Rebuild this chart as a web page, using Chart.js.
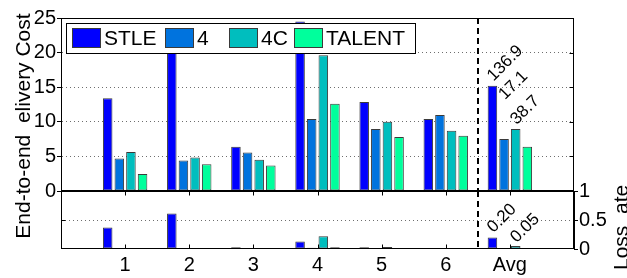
<!DOCTYPE html>
<html>
<head>
<meta charset="utf-8">
<title>Delivery cost and loss rate</title>
<script src="https://cdn.jsdelivr.net/npm/chart.js@4/dist/chart.umd.min.js"></script>
<style>
  body { margin: 0; background: #fff; }
  #wrap { position: relative; width: 627px; height: 278px; }
  #wrap canvas { position: absolute; left: 0; top: 0; }
</style>
</head>
<body>
<div id="wrap">
  <canvas id="costChart" width="627" height="278"></canvas>
  <canvas id="lossChart" width="627" height="278"></canvas>
</div>
<script>
// categories (empty slots at both ends keep the MATLAB style margins)
const xLabels = ['', '1', '2', '3', '4', '5', '6', 'Avg', ''];
const seriesNames = ['STLE', '4', '4C', 'TALENT'];
const seriesColors = ['#0000ff', '#0073de', '#00bebe', '#00ff9c'];

// end-to-end delivery cost (top panel)
const costSTLE   = [null, 13.4, 24.0, 6.4, 24.5, 12.85, 10.4, 15.2, null];
const cost4      = [null, 4.7, 4.4, 5.55, 10.4, 8.95, 11.0, 7.5, null];
const cost4C     = [null, 5.65, 4.85, 4.5, 19.6, 10.0, 8.7, 8.95, null];
const costTALENT = [null, 2.45, 3.85, 3.7, 12.6, 7.8, 8.0, 6.4, null];

// loss rate (bottom panel)
const lossSTLE   = [null, 0.37, 0.61, 0.03, 0.13, 0.03, 0.005, 0.20, null];
const loss4      = [null, 0.005, 0.005, 0.005, 0.02, 0.01, 0.005, 0.01, null];
const loss4C     = [null, 0.005, 0.005, 0.005, 0.22, 0.035, 0.005, 0.05, null];
const lossTALENT = [null, 0.005, 0.005, 0.005, 0.03, 0.005, 0.005, 0.005, null];

// value notes written above the Avg bars: [series index, text, y in data units]
const costNotes = [[0, '136.9', 15.8], [1, '17.1', 13.1], [2, '38.7', 9.5]];
const lossNotes = [[0, '0.20', 0.27], [2, '0.05', 0.10]];

const FONT = "'Liberation Sans', Arial, sans-serif";

function makeSets(lists) {
  return lists.map((d, i) => ({
    label: seriesNames[i],
    data: d,
    backgroundColor: seriesColors[i],
    borderColor: '#3a3a3a',
    borderWidth: 1,
    borderSkipped: false,
    categoryPercentage: 0.725,
    barPercentage: 0.82
  }));
}

// box, inner ticks and the dashed divider between 6 and Avg
const framePlugin = {
  id: 'frame',
  afterDraw(chart, args, opts) {
    const { ctx, chartArea: a, scales } = chart;
    const xs = scales.x, ys = scales.y;
    ctx.save();
    ctx.strokeStyle = '#000';
    ctx.lineWidth = 1;
    const L = Math.round(a.left) + 0.5, R = Math.round(a.right) - 0.5;
    const T = Math.round(a.top) + 0.5, B = Math.round(a.bottom) - 0.5;
    ctx.strokeRect(L, T, R - L, B - T);

    ctx.beginPath();
    if (opts.xTicks) {
      for (let i = 1; i <= 7; i++) {
        const x = Math.round(xs.getPixelForValue(i)) + 0.5;
        ctx.moveTo(x, B); ctx.lineTo(x, B - 4);
        ctx.moveTo(x, T); ctx.lineTo(x, T + 4);
      }
    }
    ys.ticks.forEach(t => {
      if (t.value <= ys.min || t.value >= ys.max) return;
      const y = Math.round(ys.getPixelForValue(t.value)) + 0.5;
      if (opts.side === 'right') { ctx.moveTo(R, y); ctx.lineTo(R - 4, y); }
      else { ctx.moveTo(L, y); ctx.lineTo(L + 4, y); }
    });
    ctx.stroke();

    const xd = Math.round((xs.getPixelForValue(6) + xs.getPixelForValue(7)) / 2);
    ctx.lineWidth = 2;
    ctx.setLineDash([6, 4]);
    ctx.beginPath();
    ctx.moveTo(xd, a.top);
    ctx.lineTo(xd, a.bottom);
    ctx.stroke();
    ctx.restore();
  }
};

// MATLAB style legend inside the top panel
const legendPlugin = {
  id: 'boxLegend',
  afterDraw(chart, args, opts) {
    if (!opts.show) return;
    const ctx = chart.ctx;
    const bx = 66, by = 23, bw = 349, bh = 30;
    const slots = [6, 99, 163, 228];
    ctx.save();
    ctx.fillStyle = '#fff';
    ctx.fillRect(bx, by, bw, bh);
    ctx.strokeStyle = '#000';
    ctx.lineWidth = 1;
    ctx.strokeRect(bx + 0.5, by + 0.5, bw, bh);
    ctx.font = '21px ' + FONT;
    ctx.textBaseline = 'middle';
    chart.data.datasets.forEach((ds, i) => {
      const sx = bx + slots[i];
      ctx.fillStyle = ds.backgroundColor;
      ctx.fillRect(sx, by + 5, 29, 20);
      ctx.strokeStyle = '#3a3a3a';
      ctx.strokeRect(sx + 0.5, by + 5.5, 28, 19);
      ctx.fillStyle = '#000';
      ctx.fillText(ds.label, sx + 32, by + bh / 2 + 1);
    });
    ctx.restore();
  }
};

// rotated value notes and the two axis titles
const notesPlugin = {
  id: 'notes',
  afterDraw(chart, args, opts) {
    const ctx = chart.ctx;
    ctx.save();
    ctx.fillStyle = '#000';
    ctx.font = '17px ' + FONT;
    ctx.textAlign = 'left';
    ctx.textBaseline = 'alphabetic';
    (opts.list || []).forEach(([si, txt, v]) => {
      const bar = chart.getDatasetMeta(si).data[7];
      ctx.save();
      ctx.translate(bar.x + 1, chart.scales.y.getPixelForValue(v));
      ctx.rotate(-Math.PI / 4);
      ctx.fillText(txt, 0, 0);
      ctx.restore();
    });
    if (opts.titles) {
      ctx.font = '21px ' + FONT;
      ctx.save();
      ctx.translate(30, 126);
      ctx.rotate(-Math.PI / 2);
      ctx.textAlign = 'center';
      ctx.fillText('End-to-end  elivery Cost', 0, 0);
      ctx.restore();
      ctx.save();
      ctx.translate(628, 270);
      ctx.rotate(-Math.PI / 2);
      ctx.fillText('Loss  ate', 0, 0);
      ctx.restore();
    }
    ctx.restore();
  }
};

function gridColor(c) {
  const s = c.scale;
  return (c.tick && c.tick.value > s.min && c.tick.value < s.max) ? '#6e6e6e' : 'rgba(0,0,0,0)';
}

new Chart(document.getElementById('costChart'), {
  type: 'bar',
  data: { labels: xLabels, datasets: makeSets([costSTLE, cost4, cost4C, costTALENT]) },
  options: {
    responsive: false,
    animation: false,
    layout: { padding: { left: 0, right: 53, top: 18, bottom: 87 } },
    plugins: {
      legend: { display: false },
      tooltip: { enabled: false },
      frame: { xTicks: false, side: 'right' },
      boxLegend: { show: true },
      notes: { list: costNotes }
    },
    scales: {
      x: { display: false, offset: false },
      y: {
        min: 0, max: 25,
        afterFit: s => { s.width = 61; },
        ticks: { stepSize: 5, padding: 1, color: '#000', font: { family: FONT, size: 20 } },
        grid: { color: gridColor, tickColor: '#000', tickLength: 4, lineWidth: 1 },
        border: { display: true, color: '#000', dash: [1, 3] }
      }
    }
  },
  plugins: [framePlugin, legendPlugin, notesPlugin]
});

new Chart(document.getElementById('lossChart'), {
  type: 'bar',
  data: { labels: xLabels, datasets: makeSets([lossSTLE, loss4, loss4C, lossTALENT]) },
  options: {
    responsive: false,
    animation: false,
    layout: { padding: { left: 61, right: 0, top: 191, bottom: 0 } },
    plugins: {
      legend: { display: false },
      tooltip: { enabled: false },
      frame: { xTicks: true, side: 'left' },
      boxLegend: { show: false },
      notes: { list: lossNotes, titles: true }
    },
    scales: {
      x: {
        offset: false,
        afterFit: s => { s.height = 29; },
        ticks: { padding: 4, color: '#000', autoSkip: false, maxRotation: 0, font: { family: FONT, size: 20 } },
        grid: { display: false, drawTicks: false },
        border: { display: false }
      },
      y: {
        position: 'right',
        min: 0, max: 1,
        afterFit: s => { s.width = 53; },
        ticks: {
          stepSize: 0.5, padding: 1, color: '#000', font: { family: FONT, size: 20 },
          callback: v => String(+v.toFixed(2))
        },
        grid: { color: gridColor, tickColor: '#000', tickLength: 4, lineWidth: 1 },
        border: { display: true, color: '#000', dash: [1, 3] }
      }
    }
  },
  plugins: [framePlugin, legendPlugin, notesPlugin]
});
</script>
</body>
</html>
